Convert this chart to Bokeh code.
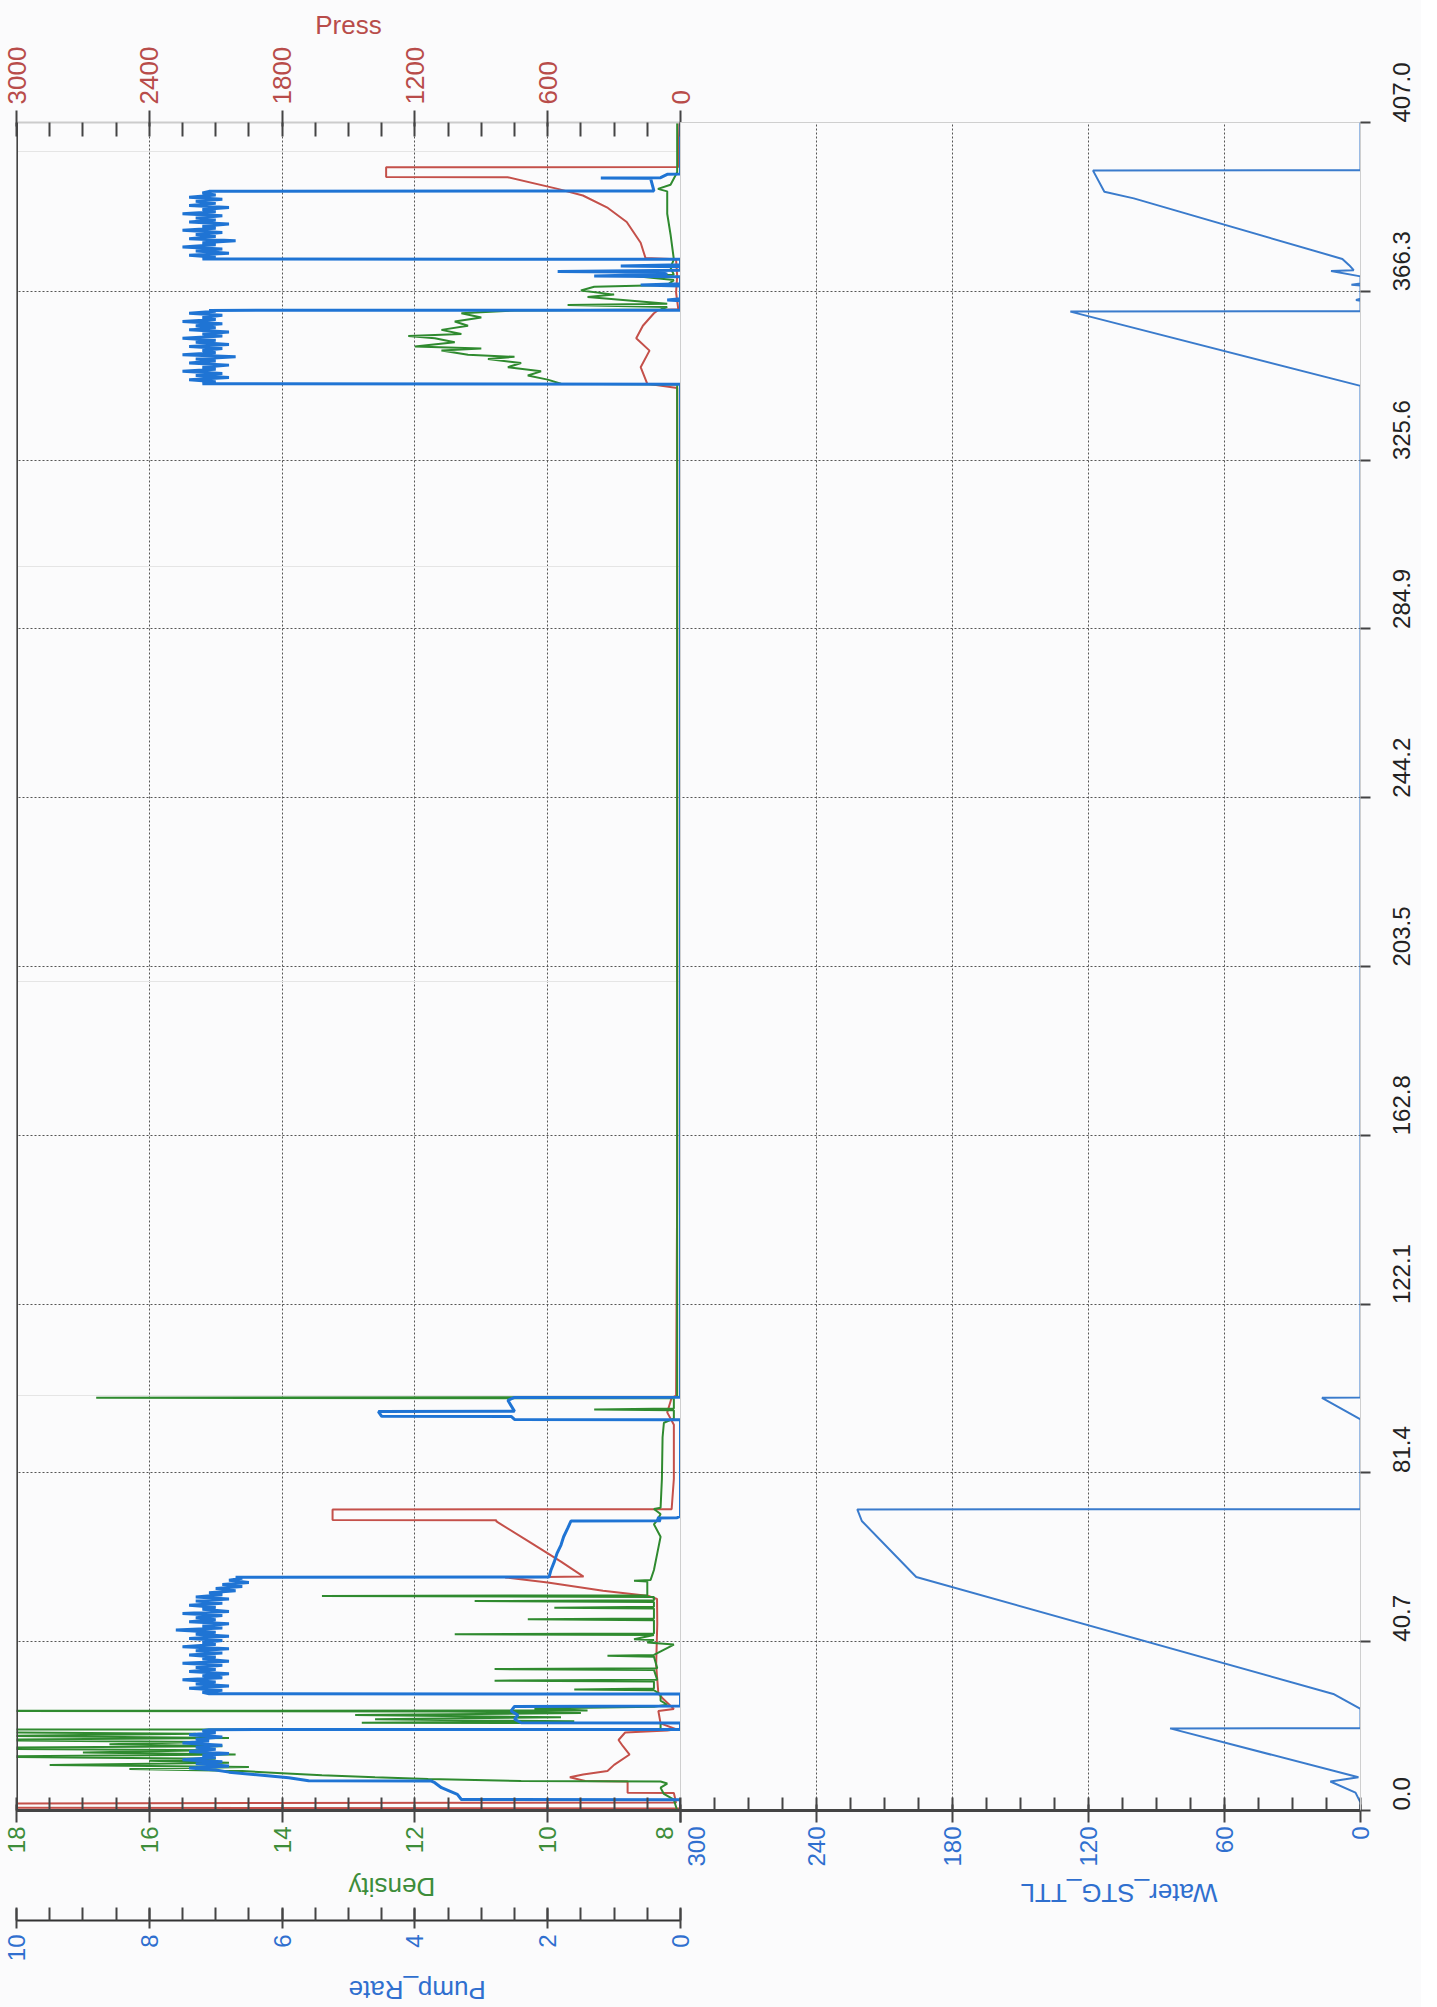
import math
from bokeh.plotting import figure
from bokeh.models import Range1d, LinearAxis, FixedTicker, Span, Grid, NumeralTickFormatter
from bokeh.layouts import row
from bokeh.embed import file_html
from bokeh.resources import INLINE

# ---------------- data ----------------
time_ticks = [0.0, 40.7, 81.4, 122.1, 162.8, 203.5, 244.2, 284.9, 325.6, 366.3, 407.0]
density_ticks = [8, 10, 12, 14, 16, 18]
pump_ticks = [0, 2, 4, 6, 8, 10]
press_ticks = [0, 600, 1200, 1800, 2400, 3000]
water_ticks = [0, 60, 120, 180, 240, 300]

# Pump_Rate (time, value)
pump_pre = [(0.0, 0), (2.6, 0), (2.65, 3.3), (3.9, 3.36), (5.5, 3.6), (6.7, 3.7), (7.1, 3.75),
            (7.15, 5.6), (7.9, 5.9), (8.5, 6.3), (9.25, 6.8)]
band1_t = [9.75, 10.25, 10.75, 11.25, 11.75, 12.25, 12.75, 13.25, 13.75, 14.25,
           14.75, 15.25, 15.75, 16.25, 16.75, 17.25, 17.75, 18.25, 18.75, 19.25]
band1_v = [7.0, 7.4, 6.8, 7.3, 6.9, 7.5, 7.0, 7.2, 6.8, 7.4,
           7.0, 7.3, 6.9, 7.5, 7.1, 7.3, 6.9, 7.4, 7.0, 7.2]
pump_mid1 = [(19.5, 7.1), (19.55, 0), (21.1, 0), (21.15, 2.4), (22.0, 2.5), (23.0, 2.45),
             (24.0, 2.55), (25.1, 2.5), (25.2, 0), (28.1, 0), (28.15, 7.1)]
band2_t = [28.5, 29.0, 29.5, 30.0, 30.5, 31.0, 31.5, 32.0, 32.5, 33.0, 33.5, 34.0, 34.5, 35.0,
           35.5, 36.0, 36.5, 37.0, 37.5, 38.0, 38.5, 39.0, 39.5, 40.0, 40.5, 41.0, 41.5, 42.0,
           42.5, 43.0, 43.5, 44.0, 44.5, 45.0, 45.5, 46.0, 46.5, 47.0, 47.5, 48.0, 48.5, 49.0,
           49.5, 50.0, 50.5, 51.0, 51.5, 52.0, 52.5, 53.0, 53.5, 54.0, 54.5, 55.0, 55.5, 56.0]
band2_v = [7.2, 6.9, 7.4, 6.8, 7.3, 7.0, 7.5, 6.9, 7.2, 6.8, 7.4, 7.0, 7.3, 6.9,
           7.5, 6.8, 7.2, 7.0, 7.4, 6.9, 7.3, 6.8, 7.5, 7.0, 7.2, 6.9, 7.4, 6.8,
           7.3, 7.0, 7.6, 6.9, 7.2, 6.8, 7.4, 7.0, 7.3, 6.9, 7.5, 6.8, 7.2, 7.0,
           7.4, 6.9, 7.3, 6.8, 7.3, 6.9, 7.1, 6.7, 7.0, 6.6, 6.9, 6.5, 6.8, 6.6]
pump_mid2 = [(56.25, 6.7), (56.3, 1.98), (58, 1.95), (60, 1.9), (62, 1.86), (64, 1.8), (66, 1.76),
             (68, 1.7), (69.8, 1.65), (69.85, 0.3), (70.5, 0.35), (70.6, 0.05), (71.0, 0),
             (94.2, 0), (94.3, 2.5), (95.0, 2.55), (95.05, 4.5), (96.2, 4.55), (96.25, 2.5),
             (98.9, 2.6), (99.6, 2.5), (99.65, 0), (343.9, 0), (344.0, 7.2)]
band3_t = [344.5, 345.0, 345.5, 346.0, 346.5, 347.0, 347.5, 348.0, 348.5, 349.0, 349.5, 350.0,
           350.5, 351.0, 351.5, 352.0, 352.5, 353.0, 353.5, 354.0, 354.5, 355.0, 355.5, 356.0,
           356.5, 357.0, 357.5, 358.0, 358.5, 359.0, 359.5, 360.0, 360.5, 361.0, 361.5]
band3_v = [7.0, 7.4, 6.8, 7.3, 6.9, 7.5, 7.0, 7.2, 6.8, 7.4, 7.0, 7.3, 6.7, 7.5, 7.0, 7.2, 6.9, 7.4,
           6.8, 7.3, 7.0, 7.5, 6.9, 7.2, 6.8, 7.4, 7.0, 7.3, 6.9, 7.5, 7.0, 7.2, 6.9, 7.4, 7.0]
pump_mid3 = [(361.7, 7.1), (361.75, 0), (364.0, 0), (364.2, 0.2), (364.5, 0), (367.6, 0),
             (367.8, 0.6), (368.1, 0), (369.8, 0), (370.0, 1.3), (370.4, 0.2), (370.9, 0.3),
             (371.1, 1.85), (371.4, 0), (372.2, 0), (372.4, 0.9), (372.7, 0), (374.0, 0), (374.1, 7.2)]
band4_t = [374.5, 375.0, 375.5, 376.0, 376.5, 377.0, 377.5, 378.0, 378.5, 379.0, 379.5, 380.0,
           380.5, 381.0, 381.5, 382.0, 382.5, 383.0, 383.5, 384.0, 384.5, 385.0, 385.5, 386.0,
           386.5, 387.0, 387.5, 388.0, 388.5, 389.0, 389.5, 390.0]
band4_v = [7.0, 7.4, 6.8, 7.3, 6.9, 7.5, 7.0, 7.2, 6.7, 7.4, 7.0, 7.3, 6.9, 7.5, 7.0, 7.2,
           6.8, 7.4, 7.0, 7.3, 6.9, 7.5, 7.0, 7.2, 6.8, 7.4, 7.0, 7.3, 6.9, 7.4, 7.0, 7.2]
pump_post = [(390.4, 7.1), (390.5, 0.4), (393.5, 0.45), (393.6, 1.2), (393.7, 0.3),
             (394.5, 0.2), (394.6, 0), (407.0, 0)]

# Density (time, value)
dens_pre = [(0.0, 8.05), (2.6, 8.1), (4.0, 8.25), (5.5, 8.3), (6.5, 8.2), (7.0, 8.3), (7.1, 10.4),
            (7.6, 11.8), (8.0, 12.6), (8.5, 13.4), (9.0, 14.0)]
dens1_t = [9.5, 10.0, 10.5, 11.0, 11.5, 12.0, 12.5, 13.0, 13.5, 14.0,
           14.5, 15.0, 15.5, 16.0, 16.5, 17.0, 17.5, 18.0, 18.5, 19.0]
dens1_v = [14.6, 16.3, 14.5, 17.5, 14.8, 16.0, 15.0, 18.5, 14.7, 17.0,
           15.1, 19.5, 14.9, 16.6, 15.2, 19.0, 14.8, 18.2, 15.3, 19.5]
dens_mid = [(19.5, 21.0), (19.6, 8.3), (21.1, 8.3), (21.15, 12.8), (21.5, 9.6), (22.0, 12.6),
            (22.5, 9.8), (23.0, 12.9), (23.5, 9.5), (23.9, 11.5), (24.0, 21.0), (24.1, 9.4),
            (24.6, 10.2), (25.0, 8.4), (25.5, 8.2), (26.5, 8.3), (28.0, 8.3), (29.0, 8.4),
            (29.2, 9.6), (29.4, 8.4), (31.1, 8.4), (31.3, 10.8), (31.5, 8.35), (33.9, 8.4),
            (34.1, 10.8), (34.3, 8.35), (37.1, 8.4), (37.3, 9.1), (37.5, 8.4), (40.0, 8.1),
            (40.5, 8.5), (41.1, 8.4), (41.3, 8.7), (42.3, 8.4), (42.5, 11.4), (42.7, 8.4),
            (45.9, 8.4), (46.1, 10.3), (46.3, 8.4), (48.7, 8.4), (48.9, 9.9), (49.1, 8.4),
            (50.3, 8.4), (50.5, 11.1), (50.7, 8.4), (51.5, 8.4), (51.7, 13.4), (51.9, 8.5),
            (53.0, 8.5), (55.2, 8.5), (55.4, 8.7), (55.6, 8.45), (58, 8.4), (62, 8.35),
            (66, 8.3), (69, 8.4), (70.0, 8.35), (71.5, 8.3), (72.7, 8.4), (73.0, 8.3),
            (80, 8.28), (90, 8.27), (93.5, 8.25), (94.5, 8.1), (96.5, 8.1), (96.7, 9.3),
            (96.9, 8.1), (99.4, 8.1), (99.5, 16.8), (99.7, 8.05), (150, 8.05), (343.8, 8.05)]
dens3 = [(344.0, 9.8), (345, 10.0), (346, 10.3), (347, 10.1), (348, 10.6), (349, 10.4),
         (350, 10.9), (350.5, 10.5), (351, 11.2), (352, 11.6), (352.5, 11.0), (353, 12.0),
         (354, 11.4), (355, 11.7), (355.5, 12.1), (356, 11.3), (357, 11.6), (358, 11.2),
         (359, 11.4), (360, 11.0), (361, 11.3), (361.7, 10.5)]
dens_post = [(361.9, 8.3), (362.5, 8.2), (363.0, 9.7), (363.3, 8.2), (364.9, 9.4), (365.5, 9.0),
             (366.5, 9.5), (367.4, 9.3), (367.8, 8.2), (369.0, 8.1), (370.0, 8.7), (370.3, 8.1),
             (372.0, 8.15), (374.0, 8.1), (380, 8.15), (385, 8.2), (390.4, 8.2), (391, 8.34),
             (392, 8.15), (395, 8.05), (407, 8.05)]

# Press (time, value)
press_pairs = [(0, 0), (0.5, 0), (0.7, 3200), (1.7, 3200), (1.9, 20), (4.2, 30), (4.3, 239),
               (7.0, 239), (7.1, 430), (8.0, 500), (8.7, 440), (9.5, 330), (11, 300), (13.5, 230),
               (15.5, 260), (17, 280), (18.8, 250), (19.3, 60), (19.6, 20), (21, 90), (24, 100),
               (24.5, 30), (27, 80), (28.2, 100), (35, 110), (45, 105), (51, 106), (51.7, 142),
               (53, 350), (55, 600), (56.2, 792), (56.4, 438), (60, 540), (65, 690), (69.7, 832),
               (70.0, 832), (70.05, 1572), (72.6, 1572), (72.65, 40), (80, 30), (93, 30), (96, 60),
               (99.5, 40), (100, 20), (150, 15), (200, 15), (250, 15), (300, 15), (343, 15),
               (344, 150), (348, 180), (352, 140), (355, 200), (358, 170), (361, 120),
               (361.8, 100), (362, 10), (366, 20), (370, 15), (374, 20), (374.3, 158), (378, 180),
               (383, 243), (386.4, 328), (389.4, 441), (391, 555), (393.8, 781), (393.85, 1330),
               (396.2, 1330), (396.25, 10), (407, 5)]

# Water_STG_TTL (time, value)
water_pairs = [(0, 0), (1.9, 0), (4.3, 2.2), (7.0, 13.3), (8.0, 0.9), (19.8, 84), (19.85, 0),
               (24.5, 0), (28.1, 12), (56.3, 196), (69.8, 220), (72.6, 222), (72.65, 0),
               (94.3, 0), (99.5, 17), (99.6, 0), (343.5, 0), (361.4, 128), (361.5, 0),
               (364.0, 0), (364.2, 2), (364.5, 0), (367.7, 0), (367.9, 4), (368.2, 0),
               (369.9, 0), (371.2, 13), (371.4, 3), (372.6, 5), (374.1, 8), (388.7, 100),
               (390.3, 113), (395.4, 118), (395.5, 0), (407, 0)]

pump_pairs = (pump_pre + list(zip(band1_t, band1_v)) + pump_mid1 + list(zip(band2_t, band2_v))
              + pump_mid2 + list(zip(band3_t, band3_v)) + pump_mid3
              + list(zip(band4_t, band4_v)) + pump_post)
dens_pairs = dens_pre + list(zip(dens1_t, dens1_v)) + dens_mid + dens3 + dens_post


def split(pairs):
    return [a for a, b in pairs], [b for a, b in pairs]


pump_t, pump_v = split(pump_pairs)
dens_t, dens_v = split(dens_pairs)
press_t, press_v = split(press_pairs)
water_t, water_v = split(water_pairs)

# ---------------- style ----------------
FONT = "Liberation Sans"
BG = "#fbfbfc"
RED = "#c4504a"
RED_T = "#b84c4a"
GREEN = "#2f8a2f"
GREEN_T = "#3d8d3a"
BLUE = "#1f74d4"
BLUE_T = "#2f6fcf"
WBLUE = "#3a7bcc"
AX = "#444444"
GRID = "#555555"
LBL = "24px"
TTL = "26px"

FRAME_H = 1688
TOP = 122
BOTTOM = 180
OVER = 32   # how far each canvas reaches into its neighbour


def set_orient(ax, o):
    try:
        ax.axis_label_orientation = o
    except Exception:
        pass


def style_axis(ax, color, label, title_orient=None):
    ax.axis_label = label
    ax.axis_label_text_color = color
    ax.axis_label_text_font = FONT
    ax.axis_label_text_font_size = TTL
    ax.axis_label_text_font_style = "normal"
    ax.major_label_text_color = color
    ax.major_label_text_font = FONT
    ax.major_label_text_font_size = LBL
    ax.major_label_orientation = math.pi / 2
    ax.major_tick_line_color = AX
    ax.minor_tick_line_color = AX
    ax.major_tick_line_width = 2
    ax.minor_tick_line_width = 2
    ax.major_tick_in = 6
    ax.major_tick_out = 12
    ax.minor_tick_in = 13
    ax.minor_tick_out = 0
    ax.axis_line_color = AX
    ax.axis_line_width = 3
    if title_orient is not None:
        set_orient(ax, title_orient)


# ---------------- panel 1 ----------------
p1 = figure(frame_width=664, frame_height=FRAME_H, x_range=Range1d(18, 8), y_range=Range1d(0, 407),
            x_axis_location="below", y_axis_location=None, toolbar_location=None,
            output_backend="svg", min_border_left=16, min_border_right=OVER, min_border_top=TOP,
            min_border_bottom=BOTTOM, background_fill_color=BG, border_fill_color=BG,
            outline_line_color="#cfcfcf")
p1.extra_x_ranges = {"press": Range1d(3000, 0), "pump": Range1d(10, 0)}

dax = p1.xaxis[0]
dax.ticker = FixedTicker(ticks=density_ticks, minor_ticks=[8 + 0.5 * i for i in range(21)])
style_axis(dax, GREEN_T, "Density", title_orient=math.pi)
dax.major_label_standoff = 4
dax.axis_label_standoff = 31
dax.major_label_overrides = {8: "8\n"}

pax = LinearAxis(x_range_name="pump")
pax.ticker = FixedTicker(ticks=pump_ticks, minor_ticks=[0.5 * i for i in range(21)])
style_axis(pax, BLUE_T, "Pump_Rate", title_orient=math.pi)
pax.axis_line_width = 2
pax.axis_line_color = "#333333"
pax.major_tick_in = 12
pax.major_tick_out = 8
pax.major_label_standoff = 6
pax.axis_label_standoff = 26
p1.add_layout(pax, "below")

prax = LinearAxis(x_range_name="press")
prax.ticker = FixedTicker(ticks=press_ticks, minor_ticks=[150 * i for i in range(21)])
style_axis(prax, RED_T, "Press")
prax.major_label_text_font_size = "26px"
prax.axis_line_color = "#cccccc"
prax.axis_line_width = 2
prax.major_tick_in = 4
prax.major_tick_out = 12
prax.minor_tick_in = 14
prax.major_label_standoff = 6
prax.axis_label_standoff = 4
p1.add_layout(prax, "above")

p1.xgrid.grid_line_color = GRID
p1.xgrid.grid_line_dash = "2 2"
p1.xgrid.grid_line_width = 1
p1.add_layout(Grid(dimension=1, ticker=FixedTicker(ticks=time_ticks), grid_line_color=GRID,
                   grid_line_dash="2 2", grid_line_width=1))
p1.add_layout(Span(location=18, dimension="height", line_color=AX, line_width=3))

p1.line(press_v, press_t, x_range_name="press", line_color=RED, line_width=2)
p1.line(dens_v, dens_t, line_color=GREEN, line_width=2)
p1.line(pump_v, pump_t, x_range_name="pump", line_color=BLUE, line_width=3)

# ---------------- panel 2 ----------------
p2 = figure(frame_width=680, frame_height=FRAME_H, x_range=Range1d(300, 0), y_range=p1.y_range,
            x_axis_location="below", y_axis_location="right", toolbar_location=None,
            output_backend="svg", min_border_left=OVER, min_border_right=60, min_border_top=TOP,
            min_border_bottom=BOTTOM, background_fill_color=BG, border_fill_color=None,
            outline_line_color="#cfcfcf")
p2.margin = (0, 0, 0, -2 * OVER)

wax = p2.xaxis[0]
wax.ticker = FixedTicker(ticks=water_ticks, minor_ticks=[15 * i for i in range(21)])
style_axis(wax, BLUE_T, "Water_STG_TTL", title_orient=math.pi)
wax.major_label_standoff = 4
wax.axis_label_standoff = 23
wax.major_label_overrides = {300: "\n300"}

tax = p2.yaxis[0]
tax.ticker = FixedTicker(ticks=time_ticks)
tax.formatter = NumeralTickFormatter(format="0.0")
tax.major_label_orientation = math.pi / 2
tax.major_label_text_font = FONT
tax.major_label_text_font_size = LBL
tax.major_label_text_color = "#222222"
tax.major_tick_line_color = AX
tax.major_tick_line_width = 2
tax.major_tick_in = 0
tax.major_tick_out = 10
tax.minor_tick_line_color = None
tax.axis_line_color = "#cfcfcf"
tax.major_label_standoff = 31

p2.xgrid.grid_line_color = GRID
p2.xgrid.grid_line_dash = "2 2"
p2.ygrid.grid_line_color = GRID
p2.ygrid.grid_line_dash = "2 2"

p2.line(water_v, water_t, line_color=WBLUE, line_width=2)

layout = row(p1, p2, spacing=0)
layout.styles = {"background-color": BG}

open("out.html", "w").write(file_html(layout, INLINE))
